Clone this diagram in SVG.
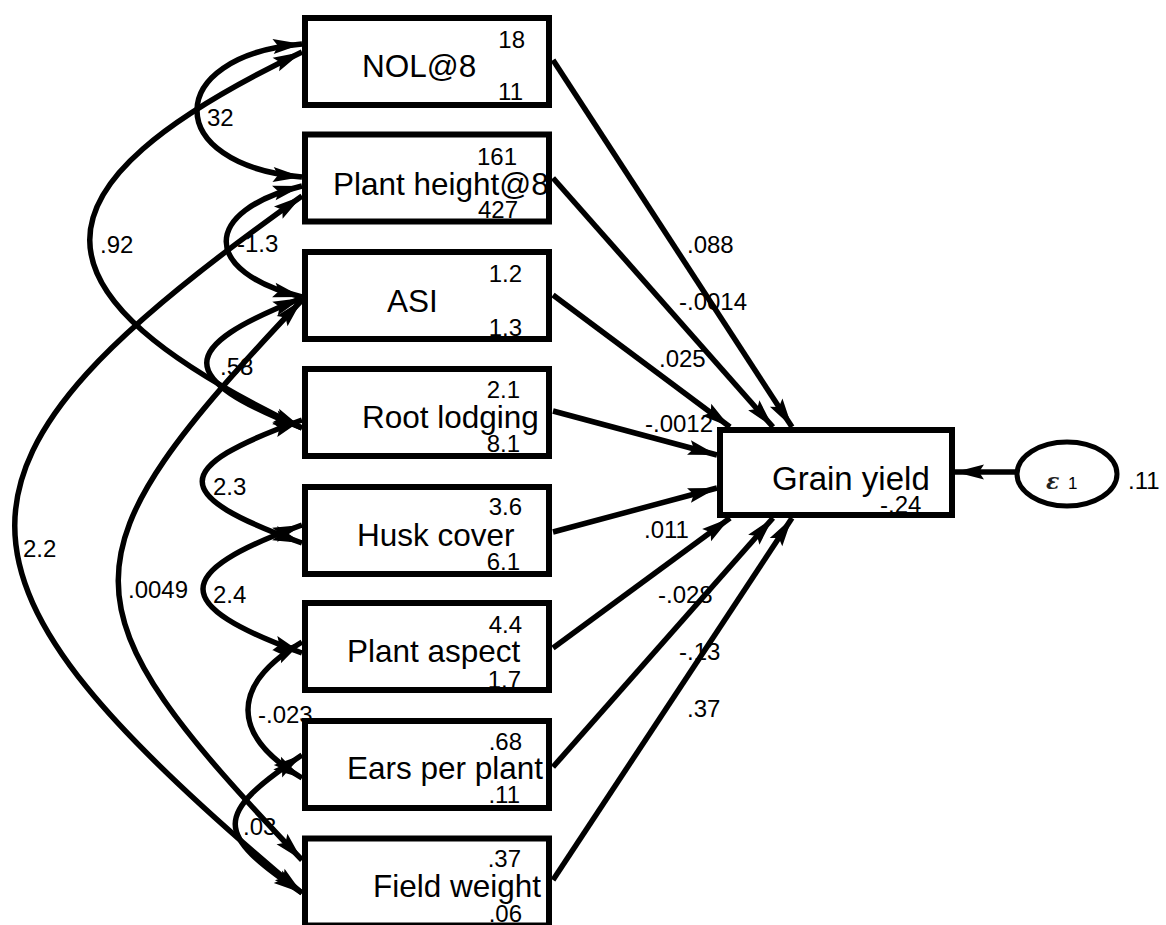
<svg xmlns="http://www.w3.org/2000/svg" width="1166" height="925" viewBox="0 0 1166 925">
<style>
.box{fill:#fff;stroke:#000;stroke-width:6}
.lbl{font-family:"Liberation Sans",Arial,sans-serif;font-size:31.5px;fill:#000}
.num{font-family:"Liberation Sans",Arial,sans-serif;font-size:24px;fill:#000}
.end{text-anchor:end}
.path{fill:none;stroke:#000;stroke-width:5.5;marker-end:url(#ah)}
.cov{fill:none;stroke:#000;stroke-width:5.5;marker-start:url(#ah);marker-end:url(#ah)}
</style>
<defs>
<marker id="ah" markerUnits="userSpaceOnUse" viewBox="-32 -9 34 18" refX="0" refY="0" markerWidth="34" markerHeight="18" orient="auto-start-reverse">
<path d="M0,0 L-29,-7.5 L-24,0 L-29,7.5 Z" fill="#000"/>
</marker>
</defs>
<rect width="1166" height="925" fill="#fff"/>
<g id="connectors">
<path class="path" d="M553,60 L792,427"/>
<path class="path" d="M553,178 L773,427"/>
<path class="path" d="M553,295 L730,427"/>
<path class="path" d="M553,411 L717,455"/>
<path class="path" d="M553,532 L717,488"/>
<path class="path" d="M553,648 L730,518"/>
<path class="path" d="M553,767 L773,518"/>
<path class="path" d="M553,880 L792,518"/>
<path class="path" d="M1016,472 L955,472"/>
<path class="cov" d="M302,44 C162,56 162,165 302,177"/>
<path class="cov" d="M302,52 C19,188 19,292 302,428"/>
<path class="cov" d="M302,186 C201,211 201,272 302,297"/>
<path class="cov" d="M302,196 C-81,466 -81,573 302,893"/>
<path class="cov" d="M302,298 C175,348 175,378 302,428"/>
<path class="cov" d="M302,300 C57,559 57,603 302,860"/>
<path class="cov" d="M302,420 C169,468 169,495 302,543"/>
<path class="cov" d="M302,525 C170,573 170,605 302,653"/>
<path class="cov" d="M302,642 C230,685 230,735 302,778"/>
<path class="cov" d="M302,755 C213,815 213,833 302,893"/>
<text class="num" x="687" y="253">.088</text>
<text class="num" x="679" y="310">-.0014</text>
<text class="num" x="659" y="367">.025</text>
<text class="num" x="645" y="432">-.0012</text>
<text class="num" x="644" y="538">.011</text>
<text class="num" x="658" y="603">-.028</text>
<text class="num" x="679" y="660">-.13</text>
<text class="num" x="687" y="717">.37</text>
<text class="num" x="207" y="126">32</text>
<text class="num" x="100" y="253">.92</text>
<text class="num" x="237" y="252">-1.3</text>
<text class="num" x="23" y="557">2.2</text>
<text class="num" x="220" y="375">.58</text>
<text class="num" x="128" y="598">.0049</text>
<text class="num" x="213" y="495">2.3</text>
<text class="num" x="213" y="603">2.4</text>
<text class="num" x="258" y="723">-.023</text>
<text class="num" x="243" y="835">.03</text>
</g>
<g id="nol8">
<rect class="box" x="305" y="18" width="244" height="87"/>
<text class="lbl" x="362" y="77">NOL@8</text>
<text class="num end" x="525" y="48">18</text>
<text class="num end" x="523" y="100">11</text>
</g>
<g id="plant-height8">
<rect class="box" x="305" y="134.5" width="244" height="87"/>
<text class="lbl" x="333" y="195">Plant height@8</text>
<text class="num end" x="517" y="165">161</text>
<text class="num end" x="518" y="218">427</text>
</g>
<g id="asi">
<rect class="box" x="305" y="252" width="244" height="87"/>
<text class="lbl" x="387" y="312">ASI</text>
<text class="num end" x="522" y="282">1.2</text>
<text class="num end" x="522" y="336">1.3</text>
</g>
<g id="root-lodging">
<rect class="box" x="305" y="369" width="244" height="87"/>
<text class="lbl" x="362" y="428">Root lodging</text>
<text class="num end" x="520" y="398">2.1</text>
<text class="num end" x="520" y="452">8.1</text>
</g>
<g id="husk-cover">
<rect class="box" x="305" y="487" width="244" height="87"/>
<text class="lbl" x="357" y="546">Husk cover</text>
<text class="num end" x="522" y="515">3.6</text>
<text class="num end" x="520" y="570">6.1</text>
</g>
<g id="plant-aspect">
<rect class="box" x="305" y="603" width="244" height="87"/>
<text class="lbl" x="347" y="662">Plant aspect</text>
<text class="num end" x="522" y="633">4.4</text>
<text class="num end" x="521" y="688">1.7</text>
</g>
<g id="ears-per-plant">
<rect class="box" x="305" y="721" width="244" height="87"/>
<text class="lbl" x="347" y="779">Ears per plant</text>
<text class="num end" x="522" y="750">.68</text>
<text class="num end" x="520" y="803">.11</text>
</g>
<g id="field-weight">
<rect class="box" x="305" y="838.5" width="244" height="87"/>
<text class="lbl" x="373" y="897">Field weight</text>
<text class="num end" x="521" y="867">.37</text>
<text class="num end" x="522" y="922">.06</text>
</g>
<g id="grain-yield">
<rect class="box" x="720" y="430" width="232" height="85"/>
<text class="lbl" x="772" y="490" style="font-size:33px">Grain yield</text>
<text class="num" x="880" y="513">-.24</text>
</g>
<g id="epsilon1">
<ellipse cx="1067" cy="474" rx="50" ry="32" fill="#fff" stroke="#000" stroke-width="5"/>
<text x="1046" y="489" style="font-family:'DejaVu Serif',serif;font-size:22px;font-style:italic;font-weight:bold;fill:#222">ε</text>
<text x="1068" y="489" style="font-family:'Liberation Sans',Arial,sans-serif;font-size:17px;fill:#000">1</text>
<text class="num" x="1128" y="489">.11</text>
</g>
</svg>
